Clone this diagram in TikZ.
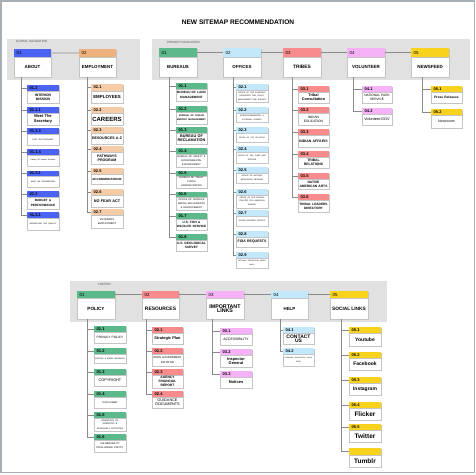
\documentclass[tikz,border=0pt]{standalone}
\usepackage{fontspec}
\setmainfont{Liberation Sans}
\definecolor{cblue}{HTML}{4B63F2}
\definecolor{corange}{HTML}{EEB27E}
\definecolor{cpeach}{HTML}{F6CCA8}
\definecolor{cgreen}{HTML}{5BB98C}
\definecolor{clblue}{HTML}{C3E8FA}
\definecolor{csalmon}{HTML}{F88B8B}
\definecolor{cpink}{HTML}{F6B2F6}
\definecolor{cyellow}{HTML}{F9D21E}
\definecolor{cpanel}{HTML}{E1E1E1}
\definecolor{cline}{HTML}{8A8A8A}
\definecolor{cframe}{HTML}{A9B0B5}
\definecolor{cshadow}{HTML}{C4C4C4}
\newcommand\fz[2]{\fontsize{#1}{#2}\selectfont}
\newcommand\bx[9]{%
  \pgfmathsetmacro\bw{#3-#2}%
  \pgfmathsetmacro\hh{#5-#4}%
  \pgfmathsetmacro\bh{#6-#5}%
  \pgfmathsetmacro\tw{#3-#2-1.5}%
  \fill[cshadow] (#2+0.7,#4+0.7) rectangle (#3+0.7,#6+0.7);
  \node[hdr, fill=#7, minimum width=\bw pt, minimum height=\hh pt, anchor=north west] (#1-h) at (#2,#4) {};
  \node[bodybox, minimum width=\bw pt, minimum height=\bh pt, text width=\tw pt, anchor=north west] (#1) at (#2,#5) {#9};
  \node[lbl, anchor=west] (#1-l) at ([xshift=2.5pt]#1-h.west) {#8};
}
\tikzset{
  hdr/.style={draw=none, inner sep=0pt, outer sep=0pt},
  bodybox/.style={fill=white, draw=cshadow, line width=0.3pt, inner xsep=0.75pt, inner ysep=0pt, outer sep=0pt, align=center, font=\fz{3.5}{4.2}\bfseries},
  lbl/.style={inner sep=0pt, font=\fz{4}{4.8}\bfseries},
  panel/.style={fill=cpanel, draw=none},
  tline/.style={draw=cline, line width=0.7pt},
  gline/.style={draw=cpanel!70!gray, line width=1.8pt},
  tree/.style={draw=cline, line width=0.6pt},
  plabel/.style={inner sep=0pt, anchor=west, text=black!65, font=\fz{3}{3.6}}
}
\begin{document}
\begin{tikzpicture}[x=1pt,y=-1pt]
\useasboundingbox (0,0) rectangle (476,474);
\fill[white] (0,0) rectangle (476,474);
\draw[cframe, line width=1.5pt] (1,1) rectangle (474.5,472.5);
\node[font=\fz{6.6}{8}\bfseries, inner sep=0pt] (title) at (238,22) {NEW SITEMAP RECOMMENDATION};
% panels
\fill[panel] (7,39) rectangle (140,80);
\fill[panel] (152,39) rectangle (470,80);
\fill[panel] (70,281) rectangle (387,322);
\node[plabel] (gnav) at (16,41.8) {GLOBAL NAVIGATION};
\node[plabel] (pnav) at (167,42.8) {PRIMARY NAVIGATION};
\node[plabel] (fnav) at (98,284) {FOOTER};
% ---------- global navigation
\bx{about}{14}{51}{49}{57}{77}{cblue}{\mdseries\fz{4.4}{5}01}{\fz{4.4}{5}ABOUT}
\bx{empl}{79}{116}{49}{57}{77}{corange}{\mdseries\fz{4.4}{5}02}{\fz{4.4}{5}EMPLOYMENT}
\draw[gline] (about-h.east) -- (empl-h.west);
% about children
\bx{a1}{27}{59}{85}{91}{103}{cblue}{01.2}{\fz{3.4}{6}INTERIOR\\MISSION}
\bx{a2}{27}{59}{107}{113}{125}{cblue}{01.1.1}{\fz{4}{5}Meet The\\Secretary}
\bx{a3}{27}{59}{128}{134}{145}{cblue}{01.3.3}{\fz{1.9}{2.3}\mdseries FAST FACTS/FIGURES}
\bx{a4}{27}{59}{149}{155}{166}{cblue}{01.1.4}{\fz{1.9}{2.3}\mdseries Library Of Interior Archives}
\bx{a5}{27}{59}{171}{176}{187}{cblue}{01.3.1}{\fz{1.9}{2.3}\mdseries WHAT WE DO/BRIEFINGS}
\bx{a6}{27}{59}{191}{197}{209}{cblue}{01.3}{\fz{3.1}{5.5}BUDGET \&\\PERFORMANCE}
\bx{a7}{27}{59}{212}{218}{230}{cblue}{01.3.1}{\fz{1.9}{2.3}\mdseries ADDRESSING THE QUALITY}
\foreach \c in {a1,a2,a3,a4,a5,a6,a7} \draw[tree] ([xshift=7pt]about.south west) |- (\c-h.west);
% employment children
\bx{e1}{91}{123}{84}{91}{103}{cpeach}{02.1}{\fz{4.4}{5}EMPLOYEES}
\bx{e2}{91}{123}{107}{113}{125}{cpeach}{02.2}{\fz{6}{7}CAREERS}
\bx{e3}{91}{123}{127}{133}{144}{cpeach}{02.3}{\fz{3.6}{4}RESOURCES A-Z}
\bx{e4}{91}{123}{146}{152}{164}{cpeach}{02.4}{\fz{3.6}{4}PATHWAYS\\PROGRAM}
\bx{e5}{91}{123}{168}{174}{184}{cpeach}{02.5}{\fz{3}{3.6}ACCOMMODATIONS}
\bx{e6}{91}{123}{189}{195}{207}{cpeach}{02.6}{\fz{3.8}{4.4}NO FEAR ACT}
\bx{e7}{91}{123}{209}{215}{228}{cpeach}{02.7}{\fz{2.6}{3.8}\mdseries VETERANS\\EMPLOYMENT}
\foreach \c in {e1,e2,e3,e4,e5,e6,e7} \draw[tree] ([xshift=8pt]empl.south west) |- (\c-h.west);
% ---------- primary navigation
\bx{bur}{159}{197}{48}{57}{77}{cgreen}{\mdseries\fz{4.4}{5}01}{\fz{4.4}{5}BUREAUS}
\bx{off}{223}{261}{48}{57}{77}{clblue}{\mdseries\fz{4.4}{5}02}{\fz{4.4}{5}OFFICES}
\bx{tri}{283}{321}{48}{57}{77}{csalmon}{\mdseries\fz{4.4}{5}03}{\fz{4.8}{5.5}TRIBES}
\bx{vol}{347}{385}{48}{57}{77}{cpink}{\mdseries\fz{4.4}{5}04}{\fz{4.5}{5.2}VOLUNTEER}
\bx{news}{411}{449}{48}{57}{77}{cyellow}{\mdseries\fz{4.4}{5}05}{\fz{4.5}{5.2}NEWSFEED}
\draw[tline] (bur-h.east) -- (off-h.west);
\draw[tline] (off-h.east) -- (tri-h.west);
\draw[tline] (tri-h.east) -- (vol-h.west);
\draw[tline] (vol-h.east) -- (news-h.west);
% bureaus children
\bx{b1}{176}{207}{83}{89}{101}{cgreen}{01.1}{\fz{3.1}{4}BUREAU OF LAND\\MANAGEMENT}
\bx{b2}{176}{207}{106}{112}{124}{cgreen}{01.2}{\fz{2.4}{3.4}BUREAU OF OCEAN\\ENERGY MANAGEMENT}
\bx{b3}{176}{207}{127}{133}{144}{cgreen}{01.3}{\fz{3.8}{4.2}BUREAU OF\\RECLAMATION}
\bx{b4}{176}{207}{148}{154}{167}{cgreen}{01.4}{\fz{2.4}{3.6}\mdseries BUREAU OF SAFETY \&\\ENVIRONMENTAL\\ENFORCEMENT}
\bx{b5}{176}{207}{171}{176}{188}{cgreen}{01.5}{\fz{2.4}{3.6}\mdseries BUREAU OF TRUST\\FUNDS\\ADMINISTRATION}
\bx{b6}{176}{207}{192}{197}{210}{cgreen}{01.6}{\fz{2.4}{3.6}\mdseries OFFICE OF SURFACE\\MINING RECLAMATION\\\& ENFORCEMENT}
\bx{b7}{176}{207}{213}{219}{230}{cgreen}{01.7}{\fz{3.1}{4.2}U.S. FISH \&\\WILDLIFE SERVICE}
\bx{b8}{176}{207}{234}{240}{251}{cgreen}{01.8}{\fz{3.2}{4.2}U.S. GEOLOGICAL\\SURVEY}
\foreach \c in {b1,b2,b3,b4,b5,b6,b7,b8} \draw[tree] ([xshift=10pt]bur.south west) |- (\c-h.west);
% offices children
\bx{o1}{236}{268}{84}{90}{102}{clblue}{02.1}{\fz{1.9}{3}\mdseries OFFICE OF THE ASSISTANT\\SECRETARY FOR POLICY,\\MANAGEMENT AND BUDGET}
\bx{o2}{236}{268}{107}{113}{122}{clblue}{02.2}{\fz{1.9}{3}\mdseries INTERGOVERNMENTAL \&\\EXTERNAL AFFAIRS}
\bx{o3}{236}{268}{127}{133}{142}{clblue}{02.3}{\fz{1.8}{3}\mdseries OFFICE OF THE SOLICITOR}
\bx{o4}{236}{268}{146}{152}{163}{clblue}{02.4}{\fz{1.9}{3}\mdseries OFFICE OF THE CHIEF INFO\\OFFICER}
\bx{o5}{236}{268}{167}{173}{183}{clblue}{02.5}{\fz{1.9}{3}\mdseries OFFICE OF NATURAL\\RESOURCES REVENUE}
\bx{o6}{236}{268}{189}{195}{208}{clblue}{02.6}{\fz{1.9}{3.2}\mdseries OFFICE OF THE SPECIAL\\TRUSTEE FOR AMERICAN\\INDIANS}
\bx{o7}{236}{268}{210}{216}{226}{clblue}{02.7}{\fz{1.9}{3}\mdseries OTHER INTERIOR OFFICES}
\bx{o8}{236}{268}{231}{237}{247}{clblue}{02.8}{\fz{3.5}{4}FOIA REQUESTS}
\bx{o9}{236}{268}{252}{258}{268}{clblue}{02.9}{\fz{1.7}{3.2}\mdseries NATIONAL RECREATION AREAS\\MAPS}
\foreach \c in {o1,o2,o3,o4,o5,o6,o7,o8,o9} \draw[tree] ([xshift=10pt]off.south west) |- (\c-h.west);
% tribes children
\bx{t1}{298}{329}{86}{92}{103}{csalmon}{03.1}{\fz{3.8}{4.4}Tribal\\Consultation}
\bx{t2}{298}{329}{107}{113}{125}{csalmon}{03.2}{\fz{3.3}{4.4}\mdseries INDIAN\\EDUCATION}
\bx{t3}{298}{329}{129}{135}{147}{csalmon}{03.3}{\fz{3.5}{4}INDIAN AFFAIRS}
\bx{t4}{298}{329}{151}{157}{168}{csalmon}{03.4}{\fz{3.4}{4.2}TRIBAL\\RELATIONS}
\bx{t5}{298}{329}{173}{179}{189}{csalmon}{03.5}{\fz{3.3}{4.2}NATIVE\\AMERICAN ARTS}
\bx{t6}{298}{329}{194}{200}{212}{csalmon}{03.6}{\fz{3.2}{4}TRIBAL LEADERS\\DIRECTORY}
\foreach \c in {t1,t2,t3,t4,t5,t6} \draw[tree] ([xshift=9pt]tri.south west) |- (\c-h.west);
% volunteer children
\bx{v1}{362}{392}{86}{92}{103}{cpink}{04.1}{\fz{3.2}{4}\mdseries NATIONAL PARK\\SERVICE}
\bx{v2}{362}{392}{108}{114}{125}{cpink}{04.2}{\fz{3.8}{4.4}\mdseries Volunteer.GOV}
\foreach \c in {v1,v2} \draw[tree] ([xshift=6pt]vol.south west) |- (\c-h.west);
% newsfeed children
\bx{n1}{431}{462}{86}{92}{103}{cyellow}{05.1}{\fz{3.3}{4}Press Releases}
\bx{n2}{431}{462}{109}{115}{128}{cyellow}{05.2}{\fz{3.5}{4}\mdseries Newsroom}
\foreach \c in {n1,n2} \draw[tree] ([xshift=11pt]news.south west) |- (\c-h.west);
% ---------- footer
\bx{pol}{77}{115}{291}{298}{319}{cgreen}{\mdseries\fz{4.4}{5}01}{\fz{4.6}{5.2}POLICY}
\bx{res}{142}{179}{291}{298}{319}{csalmon}{\mdseries\fz{4.4}{5}02}{\fz{4.9}{5.5}RESOURCES}
\bx{imp}{206}{244}{291}{298}{319}{cpink}{\mdseries\fz{4.4}{5}03}{\fz{5.3}{7.3}IMPORTANT\\LINKS}
\bx{help}{271}{308}{291}{298}{319}{clblue}{\mdseries\fz{4.4}{5}04}{\fz{4.4}{5}HELP}
\bx{soc}{330}{368}{291}{298}{319}{cyellow}{\mdseries\fz{4.4}{5}05}{\fz{4.8}{5.5}SOCIAL LINKS}
\draw[tline] (pol-h.east) -- (res-h.west);
\draw[tline] (res-h.east) -- (imp-h.west);
\draw[tline] (imp-h.east) -- (help-h.west);
\draw[tline] (help-h.east) -- (soc-h.west);
% policy children
\bx{p1}{94}{126}{326}{332}{343}{cgreen}{01.1}{\fz{3.2}{4}\mdseries PRIVACY POLICY}
\bx{p2}{94}{126}{348}{354}{363}{cgreen}{01.2}{\fz{1.9}{2.4}\mdseries NOTICES \& MEDIA WARNINGS}
\bx{p3}{94}{126}{369}{375}{386}{cgreen}{01.3}{\fz{3.8}{4.4}\mdseries COPYRIGHT}
\bx{p4}{94}{126}{391}{397}{408}{cgreen}{01.4}{\fz{2.4}{3}\mdseries DISCLAIMER}
\bx{p5}{94}{126}{412}{418}{431}{cgreen}{01.5}{\fz{2.2}{3.6}\mdseries INVENTORY OF\\SCIENTIFIC \&\\SCHOLARLY ACTIVITIES}
\bx{p6}{94}{126}{434}{440}{452}{cgreen}{01.6}{\fz{2.5}{3.6}\mdseries VULNERABILITY\\DISCLOSURE POLICY}
\foreach \c in {p1,p2,p3,p4,p5,p6} \draw[tree] ([xshift=10pt]pol.south west) |- (\c-h.west);
% resources children
\bx{r1}{152}{183}{327}{333}{344}{csalmon}{02.1}{\fz{3.9}{4.4}Strategic Plan}
\bx{r2}{152}{183}{348}{354}{366}{csalmon}{02.2}{\fz{2.7}{3.6}\mdseries OPEN GOVERNMENT\\INITIATIVE}
\bx{r3}{152}{183}{369}{375}{388}{csalmon}{02.3}{\fz{3.3}{4.1}AGENCY\\FINANCIAL\\REPORT}
\bx{r4}{152}{183}{391}{397}{408}{csalmon}{02.4}{\fz{3.8}{4.4}\mdseries GUIDANCE\\DOCUMENTS}
\foreach \c in {r1,r2,r3,r4} \draw[tree] ([xshift=4pt]res.south west) |- (\c-h.west);
% important links children
\bx{i1}{220}{252}{328}{334}{345}{cpink}{03.1}{\fz{3.4}{4}\mdseries ACCESSIBILITY\\[5pt]}
\bx{i2}{220}{252}{349}{355}{367}{cpink}{03.2}{\fz{3.9}{7.3}Inspector\\General}
\bx{i3}{220}{252}{371}{377}{388}{cpink}{03.3}{\fz{4}{4.6}Notices}
\foreach \c in {i1,i2,i3} \draw[tree] ([xshift=6pt]imp.south west) |- (\c-h.west);
% help children
\bx{h1}{283}{314}{327}{333}{344}{clblue}{04.1}{\fz{5}{5.5}CONTACT\\US}
\bx{h2}{283}{314}{348}{354}{366}{clblue}{04.2}{\fz{1.6}{3.4}\mdseries COMMONLY REQUESTED TOPICS\\\fz{1.8}{2}FAQS}
\foreach \c in {h1,h2} \draw[tree] ([xshift=9pt]help.south west) |- (\c-h.west);
% social children
\bx{s1}{349}{381}{327}{333}{346}{cyellow}{05.1}{\fz{5}{5.6}Youtube}
\bx{s2}{349}{381}{352}{358}{370}{cyellow}{05.2}{\fz{5}{5.6}Facebook}
\bx{s3}{349}{381}{377}{383}{395}{cyellow}{05.3}{\fz{5}{5.6}Instagram}
\bx{s4}{349}{381}{402}{408}{420}{cyellow}{05.4}{\fz{6.5}{7}Flicker}
\bx{s5}{349}{381}{424}{430}{442}{cyellow}{05.5}{\fz{6.5}{7}Twitter}
\bx{s6}{349}{381}{448}{455}{467}{cyellow}{}{\fz{6.5}{7}Tumblr}
\foreach \c in {s1,s2,s3,s4,s5,s6} \draw[tree] ([xshift=11pt]soc.south west) |- (\c-h.west);
\end{tikzpicture}
\end{document}
